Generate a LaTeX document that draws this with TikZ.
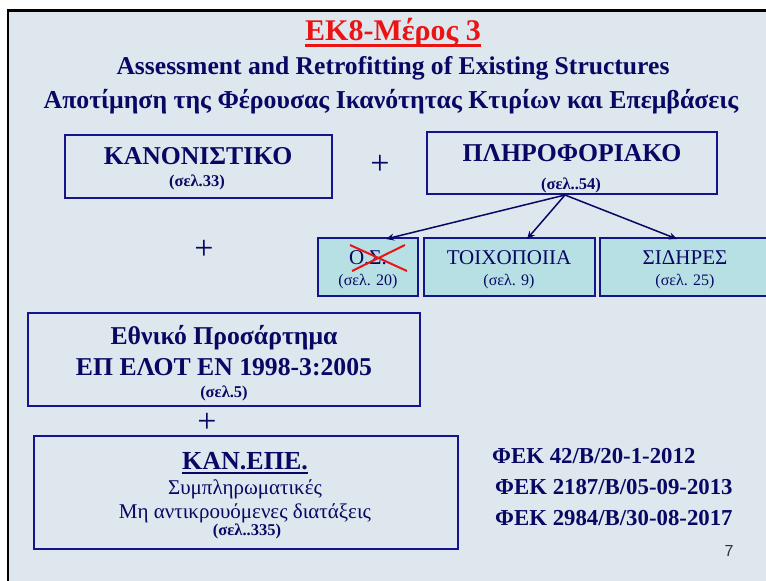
\documentclass[tikz,border=0pt]{standalone}
\usepackage{fontspec}
\setmainfont{Liberation Serif}
\newfontfamily\numfont{Liberation Sans}
\usetikzlibrary{arrows.meta}
\definecolor{bgc}{RGB}{222,230,238}
\definecolor{navy}{RGB}{8,8,100}
\definecolor{boxline}{RGB}{20,20,140}
\definecolor{tealf}{RGB}{183,224,228}
\definecolor{redc}{RGB}{235,20,20}
\tikzset{
  mainbox/.style={draw=boxline,line width=2.2pt},
  subbox/.style={draw=boxline,line width=2.2pt,fill=tealf},
  txt/.style={text=navy,inner sep=0pt,anchor=center},
  big/.style={font=\bfseries\fontsize{25.7}{27}\selectfont},
  small/.style={font=\bfseries\fontsize{16.5}{18}\selectfont},
  reg/.style={font=\fontsize{21}{23}\selectfont},
  regs/.style={font=\fontsize{16}{18}\selectfont},
  plus/.style={font=\fontsize{34}{36}\selectfont},
  conn/.style={draw=navy,line width=1.5pt,-{Stealth[length=8pt,width=7pt]}},
}
\begin{document}
\begin{tikzpicture}[x=1pt,y=-1pt]
\useasboundingbox (0,0) rectangle (766,581);
\fill[white] (0,0) rectangle (766,581);
\fill[bgc] (8,10) rectangle (766,581);
\draw[black,line width=2.5pt] (8,581) -- (8,10.5) -- (766,10.5);
% title
\node[txt,text=redc,font=\bfseries\fontsize{30}{32}\selectfont] (title) at (393,33) {ΕΚ8-Μέρος 3};
\draw[redc,line width=2.6pt] ([yshift=-4.5pt]title.base west) -- ([yshift=-4.5pt]title.base east);
\node[txt,font=\bfseries\fontsize{25.6}{27}\selectfont] (sub1) at (393,68) {Assessment and Retrofitting of Existing Structures};
\node[txt,font=\bfseries\fontsize{25.8}{27}\selectfont] (sub2) at (391,102) {Αποτίμηση της Φέρουσας Ικανότητας Κτιρίων και Επεμβάσεις};
% boxes
\path[mainbox] (65,135) rectangle (332,198);
\node[txt,big] (kan) at (198,156) {ΚΑΝΟΝΙΣΤΙΚΟ};
\node[txt,small] (kanp) at (197,182) {(σελ.33)};
\node[txt,plus] (plus1) at (380,165) {+};
\path[mainbox] (427,132) rectangle (717,194);
\node[txt,big] (pli) at (572,153) {ΠΛΗΡΟΦΟΡΙΑΚΟ};
\node[txt,small] (plip) at (571,185) {(σελ..54)};
\coordinate (src) at (565,195);
% sub boxes
\path[subbox] (318,238) rectangle (418,296);
\path[subbox] (424,238) rectangle (595,296);
\path[subbox] (600,238) rectangle (772,296);
\node[txt,reg] (os) at (368,258) {Ο.Σ.};
\node[txt,regs] (osp) at (368,282) {(σελ. 20)};
\node[txt,reg] (toix) at (509,258) {ΤΟΙΧΟΠΟΙΙΑ};
\node[txt,regs] (toixp) at (509,282) {(σελ. 9)};
\node[txt,reg] (sid) at (685,258) {ΣΙΔΗΡΕΣ};
\node[txt,regs] (sidp) at (685,282) {(σελ. 25)};
\coordinate (t1) at (386,239);
\coordinate (t2) at (527,239);
\coordinate (t3) at (677,239);
\draw[conn] (src) -- (t1);
\draw[conn] (src) -- (t2);
\draw[conn] (src) -- (t3);
\draw[redc,line width=2pt] (350,245) -- (407,271);
\draw[redc,line width=2pt] (352,271) -- (405,245);
\node[txt,plus] (plus2) at (204,250) {+};
% national annex
\path[mainbox] (28,313) rectangle (420,406);
\node[txt,big] (eth1) at (224,338) {Εθνικό Προσάρτημα};
\node[txt,big] (eth2) at (224,367) {ΕΠ ΕΛΟΤ ΕΝ 1998-3:2005};
\node[txt,small] (eth3) at (224,393) {(σελ.5)};
\node[txt,plus] (plus3) at (207,423) {+};
% KAN.EPE
\path[mainbox] (34,436) rectangle (458,549);
\node[txt,font=\bfseries\fontsize{26}{28}\selectfont] (ke1) at (245,461) {ΚΑΝ.ΕΠΕ.};
\draw[navy,line width=1.8pt] ([yshift=-3.5pt]ke1.base west) -- ([yshift=-3.5pt]ke1.base east);
\node[txt,reg] (ke2) at (245,489) {Συμπληρωματικές};
\node[txt,reg] (ke3) at (245,513) {Μη αντικρουόμενες διατάξεις};
\node[txt,small] (ke4) at (247,531) {(σελ..335)};
% FEK
\node[txt,anchor=west,font=\bfseries\fontsize{22.8}{24}\selectfont] (f1) at (492,456) {ΦΕΚ 42/Β/20-1-2012};
\node[txt,anchor=west,font=\bfseries\fontsize{22.8}{24}\selectfont] (f2) at (495,487) {ΦΕΚ 2187/Β/05-09-2013};
\node[txt,anchor=west,font=\bfseries\fontsize{22.8}{24}\selectfont] (f3) at (495,518) {ΦΕΚ 2984/Β/30-08-2017};
\node[txt,text=black!80,font=\numfont\fontsize{16}{18}\selectfont] (pg) at (729,551) {7};
\end{tikzpicture}
\end{document}
